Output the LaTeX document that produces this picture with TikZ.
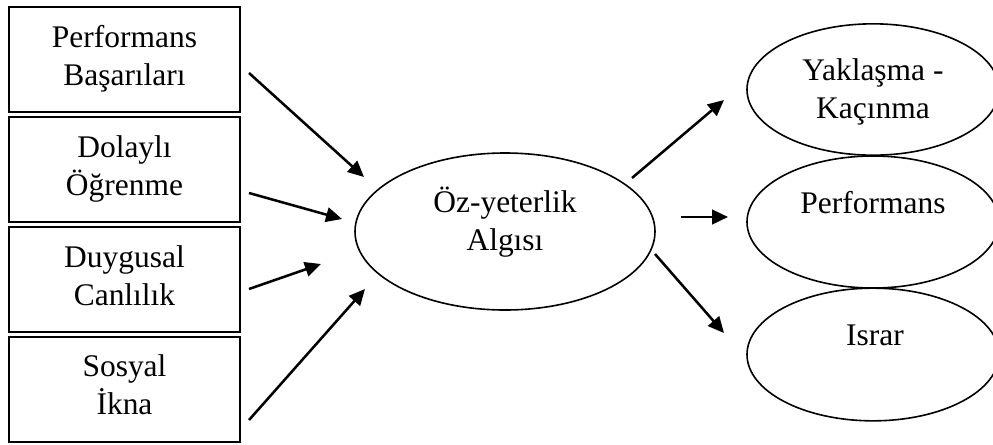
\documentclass[tikz,border=0pt]{standalone}
\usepackage{fontspec}
\setmainfont{Liberation Serif}
\usetikzlibrary{arrows.meta,shapes.geometric}
\begin{document}
\begin{tikzpicture}[x=0.75pt,y=-0.75pt,
  srcbox/.style={draw,line width=1.9pt,minimum width=173.25pt,minimum height=78.75pt,inner sep=0pt},
  oval/.style={draw,ellipse,line width=1.2pt,inner sep=0pt},
  lbl/.style={align=center,inner sep=0pt,anchor=base,font=\fontsize{23.6pt}{27.9pt}\selectfont},
  arr/.style={line width=1.9pt,-{Triangle[length=12pt,width=11pt]}}]
\useasboundingbox (0,0) rectangle (993,444);

% source boxes
\node[srcbox] (b1) at (124.5,59.5) {};
\node[srcbox] (b2) at (124.5,169.5) {};
\node[srcbox] (b3) at (124.5,279.5) {};
\node[srcbox] (b4) at (124.5,389.5) {};
% labels are anchored at the baseline of their last line
\node[lbl] (t1) at (124.5,85) {Performans\\Başarıları};
\node[lbl] (t2) at (124.5,195) {Dolaylı\\Öğrenme};
\node[lbl] (t3) at (124.5,305) {Duygusal\\Canlılık};
\node[lbl] (t4) at (124.5,414) {Sosyal\\İkna};

% central construct
\node[oval,minimum width=225pt,minimum height=117.75pt] (oz) at (505,231.5) {};
\node[lbl] (toz) at (505,250) {Öz-yeterlik\\Algısı};

% outcomes
\node[oval,minimum width=189pt,minimum height=98.5pt] (o1) at (873,89.5) {};
\node[oval,minimum width=189pt,minimum height=99pt] (o2) at (873,222) {};
\node[oval,minimum width=189pt,minimum height=99.5pt] (o3) at (873,354.5) {};
\node[lbl] (u1) at (873,118) {Yaklaşma -\\Kaçınma};
\node[lbl] (u2) at (873,213) {Performans};
\node[lbl] (u3) at (875,345) {Israr};

% arrow end points
\coordinate (s1) at (249,73);   \coordinate (e1) at (364,177);
\coordinate (s2) at (249,193);  \coordinate (e2) at (342,219);
\coordinate (s3) at (249,289);  \coordinate (e3) at (321,264);
\coordinate (s4) at (249,420);  \coordinate (e4) at (365,289);
\coordinate (s5) at (632,178);  \coordinate (e5) at (724,100);
\coordinate (s6) at (681,217);  \coordinate (e6) at (728,217);
\coordinate (s7) at (655,254);  \coordinate (e7) at (724,333);

\foreach \i in {1,...,7} {\draw[arr] (s\i) -- (e\i);}
\end{tikzpicture}
\end{document}
